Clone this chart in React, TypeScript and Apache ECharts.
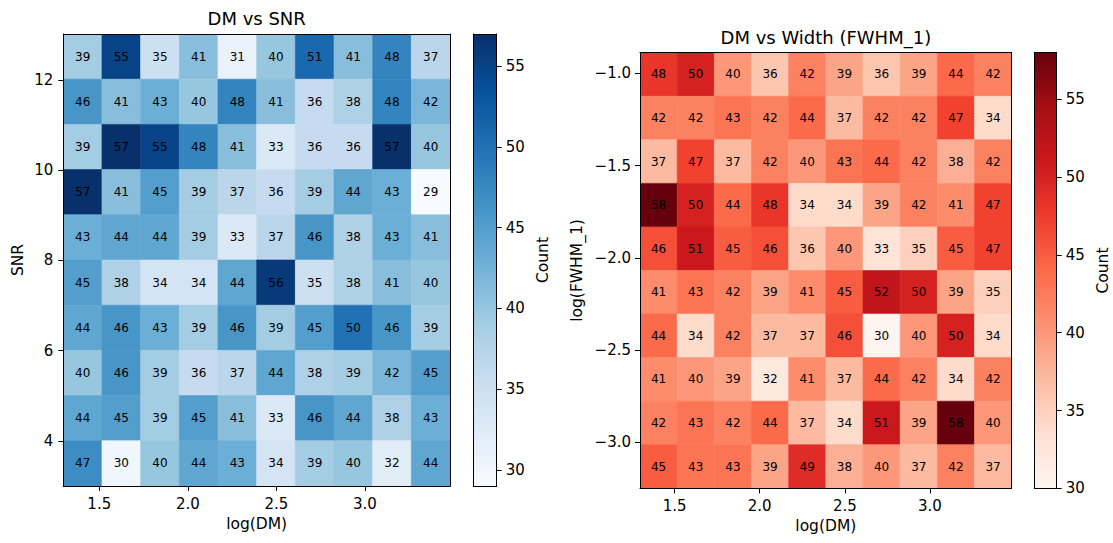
import React, { useEffect, useRef } from 'react';
import * as echarts from 'echarts';

// ---- data ----
const DM_RANGE = [1.297, 3.48];
const SNR_RANGE = [3.0, 13.02];
const FWHM_RANGE = [-3.249, -0.888];
const N_BINS = 10;

// rows listed from top (highest y bin) to bottom
const snrCounts = [
  [39, 55, 35, 41, 31, 40, 51, 41, 48, 37],
  [46, 41, 43, 40, 48, 41, 36, 38, 48, 42],
  [39, 57, 55, 48, 41, 33, 36, 36, 57, 40],
  [57, 41, 45, 39, 37, 36, 39, 44, 43, 29],
  [43, 44, 44, 39, 33, 37, 46, 38, 43, 41],
  [45, 38, 34, 34, 44, 56, 35, 38, 41, 40],
  [44, 46, 43, 39, 46, 39, 45, 50, 46, 39],
  [40, 46, 39, 36, 37, 44, 38, 39, 42, 45],
  [44, 45, 39, 45, 41, 33, 46, 44, 38, 43],
  [47, 30, 40, 44, 43, 34, 39, 40, 32, 44],
];

const fwhmCounts = [
  [48, 50, 40, 36, 42, 39, 36, 39, 44, 42],
  [42, 42, 43, 42, 44, 37, 42, 42, 47, 34],
  [37, 47, 37, 42, 40, 43, 44, 42, 38, 42],
  [58, 50, 44, 48, 34, 34, 39, 42, 41, 47],
  [46, 51, 45, 46, 36, 40, 33, 35, 45, 47],
  [41, 43, 42, 39, 41, 45, 52, 50, 39, 35],
  [44, 34, 42, 37, 37, 46, 30, 40, 50, 34],
  [41, 40, 39, 32, 41, 37, 44, 42, 34, 42],
  [42, 43, 42, 44, 37, 34, 51, 39, 58, 40],
  [45, 43, 43, 39, 49, 38, 40, 37, 42, 37],
];

const dmTicks = [1.5, 2.0, 2.5, 3.0];
const snrTicks = [4, 6, 8, 10, 12];
const fwhmTicks = [-3.0, -2.5, -2.0, -1.5, -1.0];
const countTicks = [30, 35, 40, 45, 50, 55];
const snrCountRange = [29, 57];
const fwhmCountRange = [30, 58];

const BLUES = ['#f7fbff', '#deebf7', '#c6dbef', '#9ecae1', '#6baed6', '#4292c6', '#2171b5', '#08519c', '#08306b'];
const REDS = ['#fff5f0', '#fee0d2', '#fcbba1', '#fc9272', '#fb6a4a', '#ef3b2c', '#cb181d', '#a50f15', '#67000d'];

const FONT = 'DejaVu Sans';

function buildCells(counts: number[][], xr: number[], yr: number[]) {
  const dx = (xr[1] - xr[0]) / N_BINS;
  const dy = (yr[1] - yr[0]) / N_BINS;
  const out: number[][] = [];
  counts.forEach((row, r) => {
    const yb = N_BINS - 1 - r;
    row.forEach((v, c) => {
      const x0 = xr[0] + c * dx;
      const y0 = yr[0] + yb * dy;
      out.push([x0, y0, x0 + dx, y0 + dy, v]);
    });
  });
  return out;
}

const fmtMinus = (v: number) => (v < 0 ? '\u2212' + Math.abs(v).toFixed(1) : v.toFixed(1));

function cellRender(params: any, api: any) {
  const p0 = api.coord([api.value(0), api.value(3)]);
  const p1 = api.coord([api.value(2), api.value(1)]);
  const color = api.visual('color');
  return {
    type: 'group',
    children: [
      {
        type: 'rect',
        shape: { x: p0[0], y: p0[1], width: p1[0] - p0[0], height: p1[1] - p0[1] },
        style: { fill: color, stroke: color, lineWidth: 0.6 },
      },
      {
        type: 'text',
        x: (p0[0] + p1[0]) / 2,
        y: (p0[1] + p1[1]) / 2,
        style: {
          text: String(api.value(4)),
          fill: '#000',
          font: `12px "${FONT}"`,
          align: 'center',
          verticalAlign: 'middle',
          textAlign: 'center',
          textVerticalAlign: 'middle',
        },
      },
    ],
  };
}

function colorbarRender(colors: string[]) {
  return (params: any, api: any) => {
    const cs = params.coordSys;
    const stops = colors.map((c, i) => ({ offset: i / (colors.length - 1), color: c }));
    return {
      type: 'rect',
      shape: { x: cs.x, y: cs.y, width: cs.width, height: cs.height },
      style: { fill: new echarts.graphic.LinearGradient(0, 1, 0, 0, stops) },
    };
  };
}

const lineStyle = { color: '#000', width: 1 };
const labelStyle = { color: '#000', fontSize: 15, fontFamily: FONT };

function frameAxis(kind: 'x' | 'y', gridIndex: number, position: string, min: number, max: number) {
  return {
    type: 'value',
    gridIndex,
    position,
    min,
    max,
    z: 10,
    axisLine: { show: true, onZero: false, lineStyle },
    axisTick: { show: false },
    axisLabel: { show: false },
    splitLine: { show: false },
  };
}

export default function App() {
  const ref = useRef<HTMLDivElement>(null);
  useEffect(() => {
    if (!ref.current) return;
    const chart = echarts.init(ref.current, undefined, { renderer: 'svg' });

    const g0 = { left: 63.3, top: 34, width: 386.7, height: 452 };
    const g1 = { left: 473.3, top: 34, width: 23.4, height: 452 };
    const g2 = { left: 640, top: 52.7, width: 371.7, height: 435.6 };
    const g3 = { left: 1034.3, top: 52.7, width: 22.4, height: 435.6 };

    const xMain = (gridIndex: number, nameGap: number) => ({
      type: 'value',
      gridIndex,
      position: 'bottom',
      min: DM_RANGE[0],
      max: DM_RANGE[1],
      z: 10,
      name: 'log(DM)',
      nameLocation: 'middle',
      nameGap,
      nameTextStyle: { color: '#000', fontSize: 15.5, fontFamily: FONT },
      axisLine: { show: true, onZero: false, lineStyle },
      axisTick: { show: true, inside: false, length: 5, lineStyle, customValues: dmTicks },
      axisLabel: { ...labelStyle, margin: 10, customValues: dmTicks, formatter: (v: number) => v.toFixed(1) },
      splitLine: { show: false },
    });

    const option: any = {
      animation: false,
      backgroundColor: '#fff',
      grid: [
        { ...g0, containLabel: false },
        { ...g1, containLabel: false },
        { ...g2, containLabel: false },
        { ...g3, containLabel: false },
      ],
      graphic: [
        {
          type: 'text',
          x: g0.left + g0.width / 2,
          y: 18,
          style: { text: 'DM vs SNR', fill: '#000', font: `18px "${FONT}"`, align: 'center', verticalAlign: 'middle', textAlign: 'center', textVerticalAlign: 'middle' },
        },
        {
          type: 'text',
          x: g2.left + g2.width / 2,
          y: 37,
          style: { text: 'DM vs Width (FWHM_1)', fill: '#000', font: `18px "${FONT}"`, align: 'center', verticalAlign: 'middle', textAlign: 'center', textVerticalAlign: 'middle' },
        },
      ],
      xAxis: [
        xMain(0, 22),
        frameAxis('x', 0, 'top', DM_RANGE[0], DM_RANGE[1]),
        { ...frameAxis('x', 1, 'bottom', 0, 1) },
        { ...frameAxis('x', 1, 'top', 0, 1) },
        xMain(2, 24),
        frameAxis('x', 2, 'top', DM_RANGE[0], DM_RANGE[1]),
        { ...frameAxis('x', 3, 'bottom', 0, 1) },
        { ...frameAxis('x', 3, 'top', 0, 1) },
      ],
      yAxis: [
        {
          type: 'value',
          gridIndex: 0,
          position: 'left',
          min: SNR_RANGE[0],
          max: SNR_RANGE[1],
          z: 10,
          name: 'SNR',
          nameLocation: 'middle',
          nameGap: 37,
          nameTextStyle: { color: '#000', fontSize: 15.5, fontFamily: FONT },
          axisLine: { show: true, onZero: false, lineStyle },
          axisTick: { show: true, inside: false, length: 5, lineStyle, customValues: snrTicks },
          axisLabel: { ...labelStyle, margin: 10, customValues: snrTicks, formatter: (v: number) => String(v) },
          splitLine: { show: false },
        },
        frameAxis('y', 0, 'right', SNR_RANGE[0], SNR_RANGE[1]),
        frameAxis('y', 1, 'left', snrCountRange[0], snrCountRange[1]),
        {
          type: 'value',
          gridIndex: 1,
          position: 'right',
          min: snrCountRange[0],
          max: snrCountRange[1],
          z: 10,
          name: 'Count',
          nameLocation: 'middle',
          nameRotate: 90,
          nameGap: 38,
          nameTextStyle: { color: '#000', fontSize: 15.5, fontFamily: FONT },
          axisLine: { show: true, onZero: false, lineStyle },
          axisTick: { show: true, inside: false, length: 5, lineStyle, customValues: countTicks },
          axisLabel: { ...labelStyle, margin: 9, customValues: countTicks, formatter: (v: number) => String(v) },
          splitLine: { show: false },
        },
        {
          type: 'value',
          gridIndex: 2,
          position: 'left',
          min: FWHM_RANGE[0],
          max: FWHM_RANGE[1],
          z: 10,
          name: 'log(FWHM_1)',
          nameLocation: 'middle',
          nameGap: 55,
          nameTextStyle: { color: '#000', fontSize: 15.5, fontFamily: FONT },
          axisLine: { show: true, onZero: false, lineStyle },
          axisTick: { show: true, inside: false, length: 5, lineStyle, customValues: fwhmTicks },
          axisLabel: { ...labelStyle, margin: 9, customValues: fwhmTicks, formatter: fmtMinus },
          splitLine: { show: false },
        },
        frameAxis('y', 2, 'right', FWHM_RANGE[0], FWHM_RANGE[1]),
        frameAxis('y', 3, 'left', fwhmCountRange[0], fwhmCountRange[1]),
        {
          type: 'value',
          gridIndex: 3,
          position: 'right',
          min: fwhmCountRange[0],
          max: fwhmCountRange[1],
          z: 10,
          name: 'Count',
          nameLocation: 'middle',
          nameRotate: 90,
          nameGap: 38,
          nameTextStyle: { color: '#000', fontSize: 15.5, fontFamily: FONT },
          axisLine: { show: true, onZero: false, lineStyle },
          axisTick: { show: true, inside: false, length: 5, lineStyle, customValues: countTicks },
          axisLabel: { ...labelStyle, margin: 9, customValues: countTicks, formatter: (v: number) => String(v) },
          splitLine: { show: false },
        },
      ],
      visualMap: [
        {
          type: 'continuous',
          show: false,
          seriesIndex: 0,
          dimension: 4,
          min: snrCountRange[0],
          max: snrCountRange[1],
          inRange: { color: BLUES },
        },
        {
          type: 'continuous',
          show: false,
          seriesIndex: 2,
          dimension: 4,
          min: fwhmCountRange[0],
          max: fwhmCountRange[1],
          inRange: { color: REDS },
        },
      ],
      series: [
        {
          type: 'custom',
          xAxisIndex: 0,
          yAxisIndex: 0,
          renderItem: cellRender,
          encode: { x: [0, 2], y: [1, 3] },
          data: buildCells(snrCounts, DM_RANGE, SNR_RANGE),
          clip: true,
        },
        {
          type: 'custom',
          xAxisIndex: 2,
          yAxisIndex: 2,
          renderItem: colorbarRender(BLUES),
          data: [[0.5, 40]],
        },
        {
          type: 'custom',
          xAxisIndex: 4,
          yAxisIndex: 4,
          renderItem: cellRender,
          encode: { x: [0, 2], y: [1, 3] },
          data: buildCells(fwhmCounts, DM_RANGE, FWHM_RANGE),
          clip: true,
        },
        {
          type: 'custom',
          xAxisIndex: 6,
          yAxisIndex: 6,
          renderItem: colorbarRender(REDS),
          data: [[0.5, 40]],
        },
      ],
    };
    chart.setOption(option);
    return () => chart.dispose();
  }, []);
  return (
    <div
      ref={ref}
      style={{ position: 'fixed', left: 0, top: 0, width: 1113, height: 543, background: '#fff' }}
    />
  );
}
